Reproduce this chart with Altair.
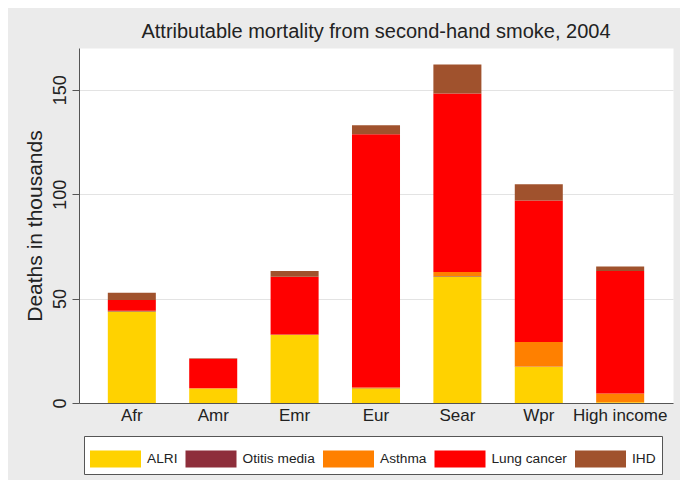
import altair as alt
import pandas as pd

regions = ["Afr", "Amr", "Emr", "Eur", "Sear", "Wpr", "High income"]
causes = ["ALRI", "Otitis media", "Asthma", "Lung cancer", "IHD"]

alri = [43.8, 6.9, 32.6, 7.1, 60.6, 17.4, 0.3]
otitis = [0.2, 0.05, 0.1, 0.05, 0.2, 0.1, 0.02]
asthma = [0.2, 0.1, 0.1, 0.3, 1.9, 11.7, 4.2]
lung = [5.1, 14.2, 27.7, 121.2, 85.5, 67.8, 58.7]
ihd = [3.5, 0.2, 2.7, 4.3, 13.9, 7.7, 2.1]

colors = ["#FFD200", "#8E2E3B", "#FF8000", "#FF0000", "#A0522D"]
y_ticks = [0, 50, 100, 150]

series = [alri, otitis, asthma, lung, ihd]
rows = []
for ci, (cause, vals) in enumerate(zip(causes, series)):
    for r, v in zip(regions, vals):
        rows.append({"region": r, "cause": cause, "idx": ci, "deaths": v})
df = pd.DataFrame(rows)

FONT = "Liberation Sans"

chart = alt.Chart(df).mark_bar(strokeWidth=0).encode(
    x=alt.X(
        "region:N", sort=regions,
        scale=alt.Scale(paddingInner=0.41, paddingOuter=0.354),
        axis=alt.Axis(title=None, labelAngle=0, ticks=False, labelFontSize=17,
                      labelPadding=4, domainColor="#555", grid=False),
    ),
    y=alt.Y(
        "deaths:Q", stack="zero",
        scale=alt.Scale(domain=[0, 170], nice=False),
        axis=alt.Axis(title="Deaths in thousands", values=y_ticks, labelAngle=270,
                      labelAlign="center", labelBaseline="bottom", labelFontSize=18,
                      titleFontSize=21, tickSize=7, tickColor="#555", domainColor="#555",
                      gridColor="#e3e3e3", gridWidth=1.2, labelPadding=3, titlePadding=6),
    ),
    color=alt.Color(
        "cause:N", sort=causes,
        scale=alt.Scale(domain=causes, range=colors),
        legend=alt.Legend(
            title=None, orient="none", legendX=5, legendY=388,
            direction="horizontal", columns=5, gridAlign="none", columnPadding=7.5,
            symbolType="M-1.5,-0.5H1.5V0.5H-1.5Z", symbolSize=1156, symbolStrokeWidth=0,
            labelFontSize=13.7, labelOffset=14.5, symbolOffset=8.5, padding=6,
            strokeColor="#555", fillColor="white", labelColor="#222", labelFont=FONT,
        ),
    ),
    order=alt.Order("idx:Q"),
).properties(
    width=594, height=355,
    title=alt.TitleParams("Attributable mortality from second-hand smoke, 2004",
                          fontSize=20, font=FONT, fontWeight="normal", color="#222",
                          offset=6, anchor="middle"),
    padding={"left": 16, "top": 14, "right": 7, "bottom": 5},
    background="#EBEBEB",
).configure(font=FONT).configure_view(fill="white", stroke="transparent").configure_axis(
    labelFont=FONT, titleFont=FONT, titleFontWeight="normal",
    labelColor="#222", titleColor="#222",
)

chart.save("out.html", embed_options={"renderer": "svg", "actions": False})
